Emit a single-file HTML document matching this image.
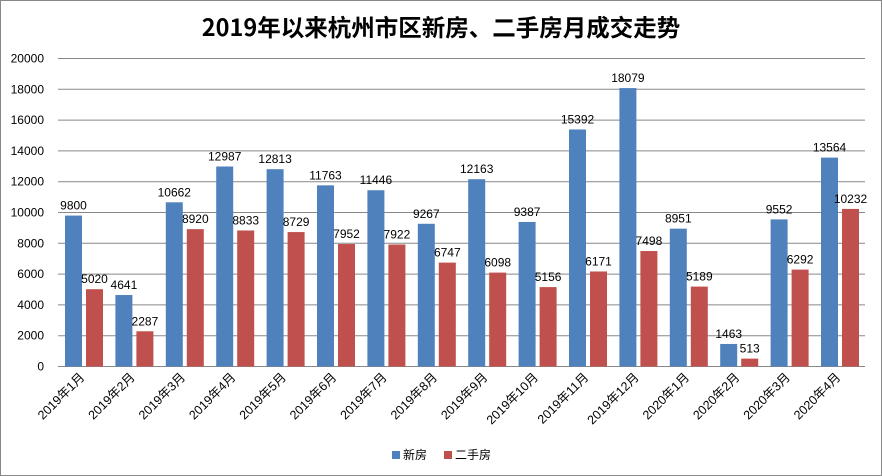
<!DOCTYPE html>
<html><head><meta charset="utf-8"><style>
body{margin:0;background:#fff}
svg{display:block;font-family:"Liberation Sans","Noto Sans CJK SC",sans-serif}
</style></head><body>
<svg width="882" height="476" viewBox="0 0 882 476">
<rect x="0.5" y="0.5" width="881" height="475" fill="#fff" stroke="#888"/>
<text x="441" y="36" text-anchor="middle" font-size="23.5" font-weight="bold" font-family="'Noto Sans CJK SC',sans-serif">2019年以来杭州市区新房、二手房月成交走势</text>
<g id="grid"></g>
<g id="bars"></g>
<g id="legend">
<rect x="392" y="451" width="8" height="8" fill="#4F81BD"/>
<text x="403" y="459" font-size="12">新房</text>
<rect x="444" y="451" width="8" height="8" fill="#C0504D"/>
<text x="455" y="459" font-size="12">二手房</text>
</g>
<script>
var ns="http://www.w3.org/2000/svg";
function el(t,a,txt,p){var e=document.createElementNS(ns,t);for(var k in a)e.setAttribute(k,a[k]);if(txt!=null)e.textContent=txt;p.appendChild(e);return e;}
var g=document.getElementById("grid"),b=document.getElementById("bars");
var y0=366.5,sc=308/20000,x0=58,gw=50.4;
for(var v=0;v<=20000;v+=2000){var y=y0-v*sc;el("line",{x1:x0,x2:865,y1:y,y2:y,stroke:"#888","stroke-width":1},null,g);el("text",{x:44,y:y+4,"text-anchor":"end","font-size":12},v,g);}
var n=[9800,4641,10662,12987,12813,11763,11446,9267,12163,9387,15392,18079,8951,1463,9552,13564];
var s=[5020,2287,8920,8833,8729,7952,7922,6747,6098,5156,6171,7498,5189,513,6292,10232];
var lab=["2019年1月","2019年2月","2019年3月","2019年4月","2019年5月","2019年6月","2019年7月","2019年8月","2019年9月","2019年10月","2019年11月","2019年12月","2020年1月","2020年2月","2020年3月","2020年4月"];
for(var i=0;i<16;i++){var gx=x0+i*gw;var bx=gx+7,rx=gx+28;
var h1=n[i]*sc,h2=s[i]*sc;
el("rect",{x:bx,y:y0-h1,width:17,height:h1,fill:"#4F81BD"},null,b);
el("rect",{x:rx,y:y0-h2,width:17,height:h2,fill:"#C0504D"},null,b);
el("text",{x:bx+8.5,y:y0-h1-6,"text-anchor":"middle","font-size":12},n[i],b);
el("text",{x:rx+8.5,y:y0-h2-6,"text-anchor":"middle","font-size":12},s[i],b);
var cx=gx+gw/2+2,cy=378;
el("text",{x:cx,y:cy,"text-anchor":"end","font-size":12.5,transform:"rotate(-45 "+cx+" "+cy+")"},lab[i],b);}
</script>
</svg>
</body></html>
